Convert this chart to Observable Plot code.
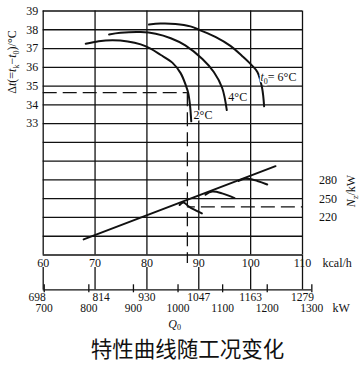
<!DOCTYPE html>
<html><head><meta charset="utf-8">
<script src="https://cdn.jsdelivr.net/npm/d3@7"></script>
<script src="https://cdn.jsdelivr.net/npm/@observablehq/plot@0.6"></script>
<style>html,body{margin:0;padding:0;background:#fff;} svg{display:block;}</style>
</head><body><div id="chart"></div>
<script>
// ---- data ----
const kcalTicks = [60, 70, 80, 90, 100, 110];              // Q0, 10^4 kcal/h
const kwEquiv   = [698, 814, 930, 1047, 1163, 1279];       // same points in kW
const kwTicks   = [700, 800, 900, 1000, 1100, 1200, 1300]; // kW scale
const dtTicks   = [33, 34, 35, 36, 37, 38, 39];            // Δt, °C
const nzTicks   = [220, 250, 280];                         // Nz, kW
const gridRows  = [26, 27, 28, 29, 30, 31, 32, 33, 34, 35, 36, 37, 38, 39];

// Δt curves for t0 = 2, 4, 6 °C
const q2  = [68.2, 70.7, 73.4, 76.3, 78.8, 80.7, 82.6, 84.9, 86.5, 87.55, 87.95, 88.3, 88.55];
const dt2 = [37.25, 37.39, 37.44, 37.38, 37.22, 36.99, 36.67, 36.25, 35.69, 35.0, 34.65, 34.0, 33.12];
const q4  = [72.7, 74.9, 78.8, 81.7, 84.6, 87.4, 90.7, 92.9, 94.5, 95.4];
const dt4 = [37.75, 37.84, 37.88, 37.79, 37.55, 37.17, 36.44, 35.75, 34.91, 33.72];
const q6  = [80.4, 82.6, 85.5, 88.4, 90.3, 93.2, 96.1, 98.4, 100.0, 101.3, 102.2, 102.6];
const dt6 = [38.28, 38.33, 38.31, 38.18, 37.97, 37.62, 37.14, 36.59, 36.17, 35.75, 34.91, 33.92];

// Nz line and its three branches
const lineQ  = [67.8, 104.8];
const lineNz = [185, 302];
const b1Q  = [86.3, 87.05, 88.1, 89.4, 90.6];
const b1Nz = [240, 244, 237.4, 231.4, 226.5];
const b2Q  = [91.3, 92.6, 94.5, 96.9];
const b2Nz = [256.5, 261.3, 258.5, 251];
const b3Q  = [97.7, 99.0, 101.3, 103.2];
const b3Nz = [278.3, 282.3, 278.3, 272.7];

// operating point (dashed)
const opQ = 87.8, opDt = 34.65, opNz = 237;

// curve labels
const labText = ["2°C", "4°C", "t0= 6°C"];
const labQ    = [89.0, 95.7, 101.9];
const labDt   = [33.46, 34.42, 35.47];

const titleText = "特性曲线随工况变化";
const yLabel = "Δt(=tk−t0)/°C";
const nzLabel = "Nz/kW";

// ---- drawing ----
const ink = "#111";
const kcalPerKw = 0.086;
const nzToY = n => 29 + (n - 250) / 30;
const dash = "14,6";
const T = {fill: ink, lineAnchor: "middle"};

const fig = Plot.plot({
  width: 362, height: 373,
  marginTop: 10.5, marginBottom: 118.5, marginLeft: 42.7, marginRight: 60,
  x: {domain: [60, 110]},
  y: {domain: [26, 39], axis: null},
  style: {fontFamily: "'Liberation Serif', serif", fontSize: "12px", color: ink, background: "white", overflow: "visible"},
  marks: [
    Plot.ruleY(gridRows, {y: d => d, stroke: ink, strokeWidth: 1.3}),
    Plot.ruleX(kcalTicks, {x: d => d, stroke: ink, strokeWidth: 1.3}),
    Plot.axisX(kcalTicks.slice(0, 5), {anchor: "bottom", tickSize: 22.3, dy: 12.5, fill: "none", stroke: ink, strokeWidth: 1.3, label: null}),
    Plot.axisX(kcalTicks.slice(5), {anchor: "bottom", tickSize: 34.8, fill: "none", stroke: ink, strokeWidth: 1.3, label: null}),
    Plot.ruleY([gridRows[0]], {y: d => d, x1: kcalTicks[0], x2: kwTicks[kwTicks.length - 1] * kcalPerKw, dy: 34.8, stroke: ink, strokeWidth: 1.3}),
    Plot.axisX(kwTicks.map(k => k * kcalPerKw), {anchor: "bottom", tickSize: 8, dy: 29.8, fill: "none", stroke: ink, strokeWidth: 1.3, label: null}),

    // dashed operating point lines
    Plot.ruleY([opDt], {y: d => d, x1: kcalTicks[0], x2: opQ, stroke: ink, strokeWidth: 1.3, strokeDasharray: dash}),
    Plot.ruleX([opQ], {x: d => d, y1: opDt, y2: gridRows[0], insetBottom: -8.5, stroke: ink, strokeWidth: 1.3, strokeDasharray: dash}),
    Plot.ruleY([opNz], {y: nzToY, x1: opQ, x2: kcalTicks[5], stroke: ink, strokeWidth: 1.3, strokeDasharray: dash, strokeDashoffset: -14}),

    // curves
    Plot.line(q2, {x: q2, y: dt2, curve: "catmull-rom", stroke: ink, strokeWidth: 2}),
    Plot.line(q4, {x: q4, y: dt4, curve: "catmull-rom", stroke: ink, strokeWidth: 2}),
    Plot.line(q6, {x: q6, y: dt6, curve: "catmull-rom", stroke: ink, strokeWidth: 2}),
    Plot.line(lineQ, {x: lineQ, y: lineNz.map(nzToY), stroke: ink, strokeWidth: 2}),
    Plot.line(b1Q, {x: b1Q, y: b1Nz.map(nzToY), curve: "catmull-rom", stroke: ink, strokeWidth: 2}),
    Plot.line(b2Q, {x: b2Q, y: b2Nz.map(nzToY), curve: "catmull-rom", stroke: ink, strokeWidth: 2}),
    Plot.line(b3Q, {x: b3Q, y: b3Nz.map(nzToY), curve: "catmull-rom", stroke: ink, strokeWidth: 2}),

    // curve labels (white backing)
    Plot.text(labText, {...T, x: labQ, y: labDt, text: d => d, textAnchor: "start", stroke: "white", strokeWidth: 3, paintOrder: "stroke"}),

    // left / right tick labels
    Plot.text(dtTicks, {...T, y: d => d, text: d => String(d), frameAnchor: "left", dx: -5, textAnchor: "end"}),
    Plot.text(nzTicks, {...T, y: nzToY, text: d => String(d), frameAnchor: "right", dx: 25.5, textAnchor: "middle"}),

    // bottom labels
    Plot.text(kcalTicks, {...T, x: d => d, text: d => String(d), frameAnchor: "bottom", dy: 8}),
    Plot.text(["kcal/h"], {...T, text: d => d, frameAnchor: "bottom-right", dx: 20, dy: 8, textAnchor: "start"}),
    Plot.text(kwEquiv.slice(0, 1), {...T, x: kcalTicks.slice(0, 1), text: d => String(d), frameAnchor: "bottom", dy: 42.5, dx: 2.5, textAnchor: "end", fontSize: 11.5}),
    Plot.text(kwEquiv.slice(1, 2), {...T, x: kcalTicks.slice(1, 2), text: d => String(d), frameAnchor: "bottom", dy: 42.5, dx: -2.5, textAnchor: "start", fontSize: 11.5}),
    Plot.text(kwEquiv.slice(2), {...T, x: kcalTicks.slice(2), text: d => String(d), frameAnchor: "bottom", dy: 42.5, fontSize: 11.5}),
    Plot.text(kwTicks, {...T, x: d => d * kcalPerKw, text: d => String(d), frameAnchor: "bottom", dy: 53, fontSize: 11.5}),
    Plot.text(["kW"], {...T, text: d => d, frameAnchor: "bottom-right", dx: 30, dy: 53, textAnchor: "start"}),
    Plot.text(["Q0"], {...T, text: d => d, frameAnchor: "bottom-left", dx: 131.5, dy: 69, textAnchor: "middle"}),
    Plot.text([titleText], {...T, text: d => d, frameAnchor: "bottom", dx: 14.7, dy: 95, textAnchor: "middle", fontFamily: "'Noto Sans CJK SC', sans-serif", fontSize: 21.5}),

    // axis titles
    Plot.text([yLabel], {...T, text: d => d, frameAnchor: "top-left", dx: -31, dy: 51, rotate: -90, textAnchor: "middle"}),
    Plot.text([nzLabel], {...T, text: d => d, frameAnchor: "right", dx: 49, dy: 58, rotate: -90, textAnchor: "middle"})
  ]
});

const rich = {
  [yLabel]: 'Δ<tspan font-style="italic">t</tspan>(=<tspan font-style="italic">t</tspan><tspan font-size="8" dy="3">k</tspan><tspan dy="-3">−</tspan><tspan font-style="italic">t</tspan><tspan font-size="8" dy="3">0</tspan><tspan dy="-3">)/°C</tspan>',
  [nzLabel]: '<tspan font-style="italic">N</tspan><tspan font-size="8" dy="3">z</tspan><tspan dy="-3">/kW</tspan>',
  "t0= 6°C": '<tspan font-style="italic">t</tspan><tspan font-size="8" dy="3">0</tspan><tspan dy="-3">= 6°C</tspan>',
  "Q0": '<tspan font-style="italic">Q</tspan><tspan font-size="8" dy="2">0</tspan>'
};
fig.querySelectorAll("text").forEach(t => {
  const h = rich[t.textContent];
  if (h) t.innerHTML = h;
});
document.getElementById("chart").appendChild(fig);
</script>
</body></html>
